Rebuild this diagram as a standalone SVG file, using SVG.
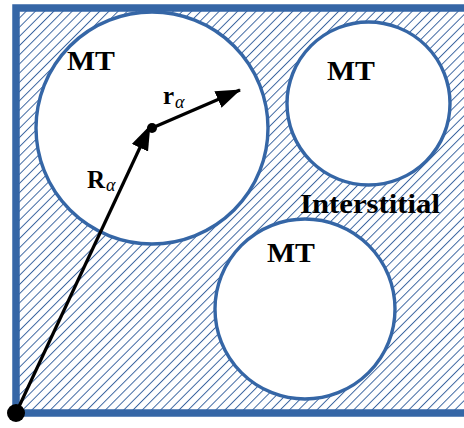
<svg xmlns="http://www.w3.org/2000/svg" width="464" height="428" viewBox="0 0 464 428">
<style>
.mt{fill:#fff;stroke:#3566a6;stroke-width:3.4}
.lbl{font-family:"Liberation Serif","DejaVu Serif",serif;font-weight:bold;fill:#000}
.sub{font-family:"Liberation Serif","DejaVu Serif",serif;font-style:italic;fill:#000}
.vec{stroke:#000;stroke-width:3.2;fill:none}
</style>
<defs>
<pattern id="hatch" patternUnits="userSpaceOnUse" width="6.5" height="6.5" patternTransform="rotate(45)">
<line x1="0.5" y1="0" x2="0.5" y2="6.5" stroke="#2d5b9a" stroke-width="0.9"/>
</pattern>
<marker id="ah" markerWidth="26" markerHeight="20" refX="24" refY="9" orient="auto" markerUnits="userSpaceOnUse">
<path d="M0,0 L25,9 L0,18 Z" fill="#000"/>
</marker>
</defs>
<rect id="interstitial" x="16" y="8" width="448" height="405" fill="url(#hatch)"/>
<path id="frame" d="M464,8 H16 V413 H464" fill="none" stroke="#3566a6" stroke-width="7.5"/>
<g id="mt1"><circle class="mt" cx="152" cy="128" r="116"/><text class="lbl" x="67" y="70" font-size="28" textLength="48" lengthAdjust="spacingAndGlyphs">MT</text></g>
<g id="mt2"><circle class="mt" cx="368.5" cy="103.5" r="81.5"/><text class="lbl" x="327" y="80" font-size="28" textLength="48" lengthAdjust="spacingAndGlyphs">MT</text></g>
<g id="mt3"><circle class="mt" cx="305" cy="309" r="90"/><text class="lbl" x="267" y="262" font-size="28" textLength="48" lengthAdjust="spacingAndGlyphs">MT</text></g>
<g id="label-interstitial"><text class="lbl" x="300" y="213" font-size="27" textLength="140" lengthAdjust="spacingAndGlyphs">Interstitial</text></g>
<g id="connectors">
<line class="vec" x1="16" y1="413" x2="150" y2="126" marker-end="url(#ah)"/>
<line class="vec" x1="152" y1="128" x2="240" y2="90" marker-end="url(#ah)"/>
<circle cx="152" cy="128" r="5" fill="#000"/>
<circle cx="16" cy="413" r="9" fill="#000"/>
</g>
<g id="labels-vec">
<text class="lbl" x="163" y="104" font-size="25">r</text><text class="sub" x="175" y="108" font-size="18">α</text>
<text class="lbl" x="87" y="188" font-size="25">R</text><text class="sub" x="106" y="191" font-size="18">α</text>
</g>
</svg>
